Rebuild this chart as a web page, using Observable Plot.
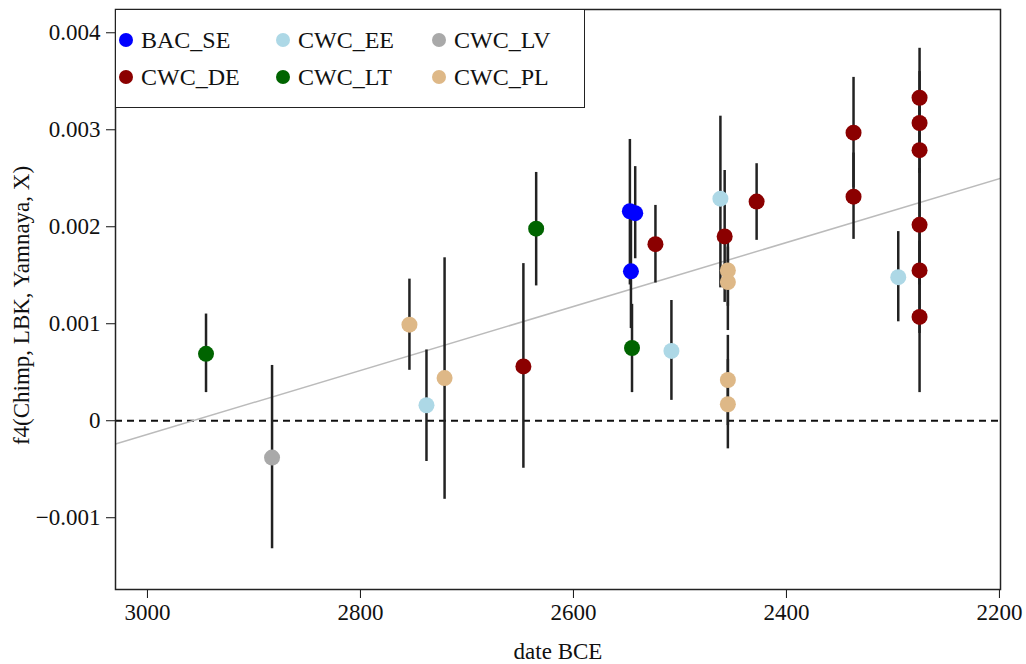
<!DOCTYPE html>
<html><head><meta charset="utf-8">
<script src="https://cdn.jsdelivr.net/npm/d3@7"></script>
<script src="https://cdn.jsdelivr.net/npm/@observablehq/plot@0.6"></script>
<style>
body{margin:0;background:#fff;}
#wrap{position:relative;width:1026px;height:664px;}
#legend{position:absolute;left:115px;top:9px;width:470px;height:99px;background:#fff;border:1.5px solid #222;box-sizing:border-box;font-family:"Liberation Serif",serif;font-size:24px;color:#111;}
.item{position:absolute;display:flex;align-items:center;height:26px;line-height:26px;}
.sw{width:14px;height:14px;border-radius:50%;margin-right:8px;flex:none;}
</style></head><body>
<div id="wrap"><div id="chart"></div><div id="legend"></div></div>
<script>
// groups and colours
const groups = ["BAC_SE", "CWC_DE", "CWC_EE", "CWC_LT", "CWC_LV", "CWC_PL"];
const groupColors = ["#0000ff", "#8b0000", "#add8e6", "#006400", "#a9a9a9", "#deb887"];

// samples
const sampleGroup = ["CWC_LT","CWC_LV","CWC_PL","CWC_EE","CWC_PL","CWC_DE","CWC_LT","BAC_SE","BAC_SE","BAC_SE","CWC_LT","CWC_DE","CWC_EE","CWC_EE","CWC_DE","CWC_PL","CWC_PL","CWC_PL","CWC_PL","CWC_DE","CWC_DE","CWC_DE","CWC_EE","CWC_DE","CWC_DE","CWC_DE","CWC_DE","CWC_DE","CWC_DE"];
const sampleDate = [2945,2883,2754,2738,2721,2647,2635,2547,2542,2546,2545,2523,2508,2462,2458,2455,2455,2455,2455,2428,2337,2337,2295,2275,2275,2275,2275,2275,2275];
const sampleF4 = [0.00069,-0.00038,0.00099,0.00016,0.00044,0.00056,0.00198,0.00216,0.00214,0.00154,0.00075,0.00182,0.00072,0.00229,0.0019,0.00155,0.00143,0.00042,0.00017,0.00226,0.00297,0.00231,0.00148,0.00333,0.00307,0.00279,0.00202,0.00155,0.00107];
const sampleLo = [0.00029,-0.00132,0.00052,-0.00042,-0.00081,-0.00049,0.00139,0.0014,0.00167,0.00095,0.00029,0.00142,0.00021,0.00137,0.00122,0.00118,0.00093,-0.00005,-0.00029,0.00186,0.0024,0.00187,0.00102,0.00282,0.00255,0.0022,0.0014,0.0009,0.00029];
const sampleHi = [0.0011,0.00057,0.00146,0.00073,0.00168,0.00162,0.00256,0.0029,0.00262,0.00212,0.0012,0.00222,0.00124,0.00314,0.00258,0.00191,0.00179,0.00088,0.00063,0.00265,0.00354,0.00276,0.00195,0.00384,0.0036,0.0034,0.0026,0.0022,0.00185];

// regression line end points
const lineDates = [3030, 2199];
const lineValues = [-0.00024, 0.0025];

// ticks
const xTicks = [3000, 2800, 2600, 2400, 2200];
const yTicks = [-0.001, 0, 0.001, 0.002, 0.003, 0.004];
const yTickLabels = ["\u22120.001", "0", "0.001", "0.002", "0.003", "0.004"];

const rows = sampleDate.map((d, i) => ({date: d, f4: sampleF4[i], lo: sampleLo[i], hi: sampleHi[i], group: sampleGroup[i]}));
const reg = lineDates.map((d, i) => ({date: d, v: lineValues[i]}));

const chart = Plot.plot({
  width: 1026, height: 664,
  marginLeft: 115, marginRight: 26, marginTop: 9, marginBottom: 75,
  style: {fontFamily: "'Liberation Serif', serif", fontSize: "23px", color: "#111", background: "#fff"},
  x: {domain: [3030, 2199]},
  y: {domain: [-0.00174, 0.00424]},
  color: {domain: groups, range: groupColors},
  marks: [
    Plot.axisX({ticks: xTicks, tickFormat: d => String(d), tickSize: 9, tickPadding: 5, label: "date BCE", labelAnchor: "center", labelArrow: "none", labelOffset: 69}),
    Plot.axisY({ticks: yTicks, tickFormat: d => yTickLabels[yTicks.indexOf(d)], tickSize: 9, tickPadding: 6, label: "f4(Chimp, LBK, Yamnaya, X)", labelAnchor: "center", labelArrow: "none", labelOffset: 103}),
    Plot.ruleY([0], {stroke: "#111", strokeWidth: 1.8, strokeDasharray: "7,5"}),
    Plot.line(reg, {x: "date", y: "v", stroke: "#bbb", strokeWidth: 1.5, clip: true}),
    Plot.ruleX(rows, {x: "date", y1: "lo", y2: "hi", stroke: "#222", strokeWidth: 2.5}),
    Plot.dot(rows, {x: "date", y: "f4", fill: "group", r: 8}),
    Plot.frame({stroke: "#222", strokeWidth: 1.5})
  ]
});
document.getElementById("chart").appendChild(chart);
// nudge the y-axis title slightly down, as in the reference
d3.select(chart).selectAll('g[aria-label="y-axis label"] text').attr("dx", "-6");

// legend (2 rows x 3 columns, column-major)
const legend = document.getElementById("legend");
const colX = [3, 160, 316];
const rowY = [17, 54];
groups.forEach((g, i) => {
  const c = Math.floor(i / 2), r = i % 2;
  const it = document.createElement("div");
  it.className = "item";
  it.style.left = colX[c] + "px";
  it.style.top = rowY[r] + "px";
  const sw = document.createElement("span");
  sw.className = "sw";
  sw.style.background = groupColors[i];
  const t = document.createElement("span");
  t.textContent = g;
  it.appendChild(sw); it.appendChild(t);
  legend.appendChild(it);
});
</script>
</body></html>
